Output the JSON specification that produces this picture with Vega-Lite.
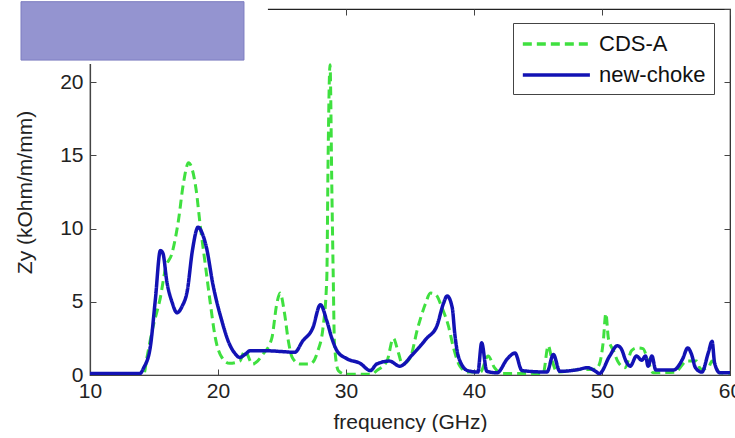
{
  "$schema": "https://vega.github.io/schema/vega-lite/v6.json",
  "width": 640,
  "height": 366,
  "padding": 0,
  "background": "white",
  "config": {
    "view": {"stroke": "#222", "strokeWidth": 1.2},
    "font": "Liberation Sans",
    "axis": {
      "grid": false,
      "domainColor": "#444",
      "domainWidth": 1.2,
      "tickColor": "#444",
      "tickSize": -6,
      "labelFlush": false,
      "labelFont": "Liberation Sans",
      "labelFontSize": 21,
      "labelColor": "#222",
      "titleFont": "Liberation Sans",
      "titleFontSize": 21,
      "titleFontWeight": "normal",
      "titleColor": "#222"
    },
    "legend": {
      "orient": "none",
      "legendX": 423,
      "legendY": 14,
      "strokeColor": "#444",
      "fillColor": "white",
      "padding": 8,
      "symbolType": "M-1,0H5",
      "symbolSize": 500,
      "symbolStrokeWidth": 3.5,
      "labelOffset": 52,
      "labelFont": "Liberation Sans",
      "labelFontSize": 22,
      "labelColor": "#111",
      "rowPadding": 7
    }
  },
  "datasets": {
    "curves": [
      {"f": 10, "z": 0.05, "s": "CDS-A"}, {"f": 14.2, "z": 0.05, "s": "CDS-A"}, {"f": 14.45, "z": 1.2, "s": "CDS-A"}, {"f": 14.9, "z": 3.2, "s": "CDS-A"}, {"f": 15.5, "z": 5.3, "s": "CDS-A"}, {"f": 15.9, "z": 7.3, "s": "CDS-A"}, {"f": 16.4, "z": 8.3, "s": "CDS-A"}, {"f": 16.9, "z": 10.5, "s": "CDS-A"}, {"f": 17.3, "z": 13.1, "s": "CDS-A"}, {"f": 17.7, "z": 14.5, "s": "CDS-A"}, {"f": 18.0, "z": 14.0, "s": "CDS-A"}, {"f": 18.3, "z": 12.6, "s": "CDS-A"}, {"f": 18.6, "z": 10.3, "s": "CDS-A"}, {"f": 19.0, "z": 7.6, "s": "CDS-A"}, {"f": 19.4, "z": 4.9, "s": "CDS-A"}, {"f": 19.8, "z": 2.5, "s": "CDS-A"}, {"f": 20.3, "z": 1.2, "s": "CDS-A"}, {"f": 20.9, "z": 0.8, "s": "CDS-A"}, {"f": 21.7, "z": 0.95, "s": "CDS-A"}, {"f": 22.1, "z": 1.65, "s": "CDS-A"}, {"f": 22.7, "z": 0.75, "s": "CDS-A"}, {"f": 23.5, "z": 1.4, "s": "CDS-A"}, {"f": 24.2, "z": 2.5, "s": "CDS-A"}, {"f": 24.6, "z": 4.9, "s": "CDS-A"}, {"f": 24.85, "z": 5.6, "s": "CDS-A"}, {"f": 25.2, "z": 4.2, "s": "CDS-A"}, {"f": 25.5, "z": 2.3, "s": "CDS-A"}, {"f": 25.8, "z": 1.2, "s": "CDS-A"}, {"f": 26.4, "z": 0.75, "s": "CDS-A"}, {"f": 27.2, "z": 0.75, "s": "CDS-A"}, {"f": 27.8, "z": 1.65, "s": "CDS-A"}, {"f": 28.2, "z": 3.2, "s": "CDS-A"}, {"f": 28.5, "z": 6.6, "s": "CDS-A"}, {"f": 28.6, "z": 14.7, "s": "CDS-A"}, {"f": 28.75, "z": 21.2, "s": "CDS-A"}, {"f": 28.9, "z": 12.4, "s": "CDS-A"}, {"f": 29.0, "z": 6.9, "s": "CDS-A"}, {"f": 29.1, "z": 2.1, "s": "CDS-A"}, {"f": 29.4, "z": 0.3, "s": "CDS-A"}, {"f": 30, "z": 0.05, "s": "CDS-A"}, {"f": 32, "z": 0.05, "s": "CDS-A"}, {"f": 32.4, "z": 0.3, "s": "CDS-A"}, {"f": 33.2, "z": 0.95, "s": "CDS-A"}, {"f": 33.7, "z": 2.5, "s": "CDS-A"}, {"f": 34.1, "z": 1.5, "s": "CDS-A"}, {"f": 34.4, "z": 0.75, "s": "CDS-A"}, {"f": 35.0, "z": 1.15, "s": "CDS-A"}, {"f": 35.6, "z": 3.2, "s": "CDS-A"}, {"f": 36.2, "z": 4.85, "s": "CDS-A"}, {"f": 36.6, "z": 5.6, "s": "CDS-A"}, {"f": 37.0, "z": 5.5, "s": "CDS-A"}, {"f": 37.5, "z": 4.6, "s": "CDS-A"}, {"f": 38.0, "z": 3.35, "s": "CDS-A"}, {"f": 38.4, "z": 1.85, "s": "CDS-A"}, {"f": 38.9, "z": 0.6, "s": "CDS-A"}, {"f": 39.5, "z": 0.2, "s": "CDS-A"}, {"f": 40.5, "z": 0.2, "s": "CDS-A"}, {"f": 41.1, "z": 1.3, "s": "CDS-A"}, {"f": 41.6, "z": 0.5, "s": "CDS-A"}, {"f": 42.2, "z": 0.1, "s": "CDS-A"}, {"f": 45.4, "z": 0.1, "s": "CDS-A"}, {"f": 45.8, "z": 2.0, "s": "CDS-A"}, {"f": 46.1, "z": 1.0, "s": "CDS-A"}, {"f": 46.5, "z": 0.2, "s": "CDS-A"}, {"f": 48, "z": 0.35, "s": "CDS-A"}, {"f": 49.5, "z": 0.4, "s": "CDS-A"}, {"f": 49.8, "z": 0.75, "s": "CDS-A"}, {"f": 50.1, "z": 2.3, "s": "CDS-A"}, {"f": 50.3, "z": 4.2, "s": "CDS-A"}, {"f": 50.5, "z": 2.5, "s": "CDS-A"}, {"f": 50.9, "z": 1.65, "s": "CDS-A"}, {"f": 51.25, "z": 0.9, "s": "CDS-A"}, {"f": 51.8, "z": 0.5, "s": "CDS-A"}, {"f": 52.3, "z": 1.65, "s": "CDS-A"}, {"f": 52.7, "z": 1.85, "s": "CDS-A"}, {"f": 53.2, "z": 1.8, "s": "CDS-A"}, {"f": 53.6, "z": 0.95, "s": "CDS-A"}, {"f": 54.0, "z": 0.15, "s": "CDS-A"}, {"f": 55.8, "z": 0.2, "s": "CDS-A"}, {"f": 56.1, "z": 0.5, "s": "CDS-A"}, {"f": 56.6, "z": 0.95, "s": "CDS-A"}, {"f": 57.4, "z": 0.95, "s": "CDS-A"}, {"f": 57.7, "z": 0.4, "s": "CDS-A"}, {"f": 58.3, "z": 0.5, "s": "CDS-A"}, {"f": 58.6, "z": 0.95, "s": "CDS-A"}, {"f": 59.2, "z": 0.15, "s": "CDS-A"}, {"f": 60, "z": 0.1, "s": "CDS-A"},
      {"f": 10, "z": 0.1, "s": "new-choke"}, {"f": 13.9, "z": 0.1, "s": "new-choke"}, {"f": 14.2, "z": 0.5, "s": "new-choke"}, {"f": 14.7, "z": 1.85, "s": "new-choke"}, {"f": 15.1, "z": 5.1, "s": "new-choke"}, {"f": 15.5, "z": 8.5, "s": "new-choke"}, {"f": 15.7, "z": 8.3, "s": "new-choke"}, {"f": 16.0, "z": 6.4, "s": "new-choke"}, {"f": 16.4, "z": 5.0, "s": "new-choke"}, {"f": 16.8, "z": 4.25, "s": "new-choke"}, {"f": 17.2, "z": 4.7, "s": "new-choke"}, {"f": 17.6, "z": 5.75, "s": "new-choke"}, {"f": 18.0, "z": 8.5, "s": "new-choke"}, {"f": 18.45, "z": 10.1, "s": "new-choke"}, {"f": 18.8, "z": 9.6, "s": "new-choke"}, {"f": 19.1, "z": 8.7, "s": "new-choke"}, {"f": 19.6, "z": 6.2, "s": "new-choke"}, {"f": 20.3, "z": 3.7, "s": "new-choke"}, {"f": 20.9, "z": 2.1, "s": "new-choke"}, {"f": 21.3, "z": 1.5, "s": "new-choke"}, {"f": 21.7, "z": 1.2, "s": "new-choke"}, {"f": 22.1, "z": 1.4, "s": "new-choke"}, {"f": 22.5, "z": 1.65, "s": "new-choke"}, {"f": 24, "z": 1.65, "s": "new-choke"}, {"f": 25, "z": 1.6, "s": "new-choke"}, {"f": 26.0, "z": 1.55, "s": "new-choke"}, {"f": 26.6, "z": 2.3, "s": "new-choke"}, {"f": 27.4, "z": 3.2, "s": "new-choke"}, {"f": 28.0, "z": 4.8, "s": "new-choke"}, {"f": 28.5, "z": 3.7, "s": "new-choke"}, {"f": 28.9, "z": 2.5, "s": "new-choke"}, {"f": 29.3, "z": 1.65, "s": "new-choke"}, {"f": 30.1, "z": 1.1, "s": "new-choke"}, {"f": 31.1, "z": 0.8, "s": "new-choke"}, {"f": 31.9, "z": 0.3, "s": "new-choke"}, {"f": 32.4, "z": 0.75, "s": "new-choke"}, {"f": 33.4, "z": 0.95, "s": "new-choke"}, {"f": 34.2, "z": 0.6, "s": "new-choke"}, {"f": 35.2, "z": 1.4, "s": "new-choke"}, {"f": 36.3, "z": 2.5, "s": "new-choke"}, {"f": 37.1, "z": 3.35, "s": "new-choke"}, {"f": 37.6, "z": 4.85, "s": "new-choke"}, {"f": 37.9, "z": 5.4, "s": "new-choke"}, {"f": 38.3, "z": 4.6, "s": "new-choke"}, {"f": 38.5, "z": 2.8, "s": "new-choke"}, {"f": 38.8, "z": 1.2, "s": "new-choke"}, {"f": 39.5, "z": 0.3, "s": "new-choke"}, {"f": 40.3, "z": 0.2, "s": "new-choke"}, {"f": 40.6, "z": 2.2, "s": "new-choke"}, {"f": 41.0, "z": 0.25, "s": "new-choke"}, {"f": 41.8, "z": 0.15, "s": "new-choke"}, {"f": 42.6, "z": 1.1, "s": "new-choke"}, {"f": 43.2, "z": 1.5, "s": "new-choke"}, {"f": 43.75, "z": 0.3, "s": "new-choke"}, {"f": 45.7, "z": 0.2, "s": "new-choke"}, {"f": 46.2, "z": 1.4, "s": "new-choke"}, {"f": 46.7, "z": 0.25, "s": "new-choke"}, {"f": 48.0, "z": 0.35, "s": "new-choke"}, {"f": 48.9, "z": 0.5, "s": "new-choke"}, {"f": 49.5, "z": 0.25, "s": "new-choke"}, {"f": 49.8, "z": 0.1, "s": "new-choke"}, {"f": 50.6, "z": 1.3, "s": "new-choke"}, {"f": 51.2, "z": 2.0, "s": "new-choke"}, {"f": 51.5, "z": 1.8, "s": "new-choke"}, {"f": 51.9, "z": 0.9, "s": "new-choke"}, {"f": 52.2, "z": 0.6, "s": "new-choke"}, {"f": 52.7, "z": 1.3, "s": "new-choke"}, {"f": 53.1, "z": 1.0, "s": "new-choke"}, {"f": 53.4, "z": 1.3, "s": "new-choke"}, {"f": 53.6, "z": 0.6, "s": "new-choke"}, {"f": 53.9, "z": 1.3, "s": "new-choke"}, {"f": 54.2, "z": 0.35, "s": "new-choke"}, {"f": 55.6, "z": 0.35, "s": "new-choke"}, {"f": 56.3, "z": 1.1, "s": "new-choke"}, {"f": 56.7, "z": 1.85, "s": "new-choke"}, {"f": 57.0, "z": 1.4, "s": "new-choke"}, {"f": 57.3, "z": 0.5, "s": "new-choke"}, {"f": 57.8, "z": 0.2, "s": "new-choke"}, {"f": 58.3, "z": 1.5, "s": "new-choke"}, {"f": 58.6, "z": 2.3, "s": "new-choke"}, {"f": 58.8, "z": 0.8, "s": "new-choke"}, {"f": 59.2, "z": 0.15, "s": "new-choke"}, {"f": 60, "z": 0.15, "s": "new-choke"}
    ],
    "whitebox": [{"x1": 2.97, "x2": 23.9, "y1": 25.548, "y2": 21.25}],
    "purplebox": [{"x1": 4.61, "x2": 22.03, "y1": 25.5, "y2": 21.51}]
  },
  "layer": [
    {
      "layer": [
        {
          "data": {"name": "curves"},
          "transform": [{"filter": "datum.s === 'CDS-A'"}],
          "mark": {"type": "line", "strokeWidth": 3, "clip": true, "interpolate": "monotone"},
          "encoding": {
            "x": {"field": "f", "type": "quantitative", "scale": {"domain": [10, 60], "nice": false, "zero": false},
                  "axis": {"values": [10, 20, 30, 40, 50, 60], "title": "frequency (GHz)", "titlePadding": 10, "labelPadding": 11}},
            "y": {"field": "z", "type": "quantitative", "scale": {"domain": [0, 25], "nice": false},
                  "axis": {"values": [0, 5, 10, 15, 20], "title": "Zy (kOhm/m/mm)", "titlePadding": 24, "labelPadding": 13}},
            "color": {"field": "s", "type": "nominal", "scale": {"domain": ["CDS-A", "new-choke"], "range": ["#3fe03f", "#1212b4"]}, "legend": {"title": null}},
            "strokeDash": {"field": "s", "type": "nominal", "scale": {"domain": ["CDS-A", "new-choke"], "range": [[9, 5], [1, 0]]}, "legend": {"title": null}}
          }
        },
        {
          "data": {"name": "curves"},
          "transform": [{"filter": "datum.s === 'new-choke'"}],
          "mark": {"type": "line", "strokeWidth": 3.5, "clip": true, "interpolate": "monotone"},
          "encoding": {
            "x": {"field": "f", "type": "quantitative"},
            "y": {"field": "z", "type": "quantitative"},
            "color": {"field": "s", "type": "nominal"},
            "strokeDash": {"field": "s", "type": "nominal"}
          }
        },
        {
          "data": {"name": "whitebox"},
          "mark": {"type": "rect", "clip": false, "fill": "#ffffff", "strokeWidth": 0},
          "encoding": {
            "x": {"field": "x1", "type": "quantitative"},
            "x2": {"field": "x2"},
            "y": {"field": "y1", "type": "quantitative"},
            "y2": {"field": "y2"}
          }
        },
        {
          "data": {"name": "purplebox"},
          "mark": {"type": "rect", "clip": false, "fill": "#9494d0", "stroke": "#7d7dc0", "strokeWidth": 1},
          "encoding": {
            "x": {"field": "x1", "type": "quantitative"},
            "x2": {"field": "x2"},
            "y": {"field": "y1", "type": "quantitative"},
            "y2": {"field": "y2"}
          }
        }
      ]
    },
    {
      "data": {"name": "curves"},
      "mark": {"type": "point", "opacity": 0},
      "encoding": {
        "x": {"field": "f", "type": "quantitative", "scale": {"domain": [10, 60], "nice": false, "zero": false},
              "axis": {"orient": "top", "values": [10, 20, 30, 40, 50, 60], "labels": false, "title": null, "domain": false}},
        "y": {"field": "z", "type": "quantitative", "scale": {"domain": [0, 25], "nice": false},
              "axis": {"orient": "right", "values": [0, 5, 10, 15, 20, 25], "labels": false, "title": null, "domain": false}}
      }
    }
  ],
  "resolve": {"scale": {"x": "independent", "y": "independent"}, "axis": {"x": "independent", "y": "independent"}}
}
